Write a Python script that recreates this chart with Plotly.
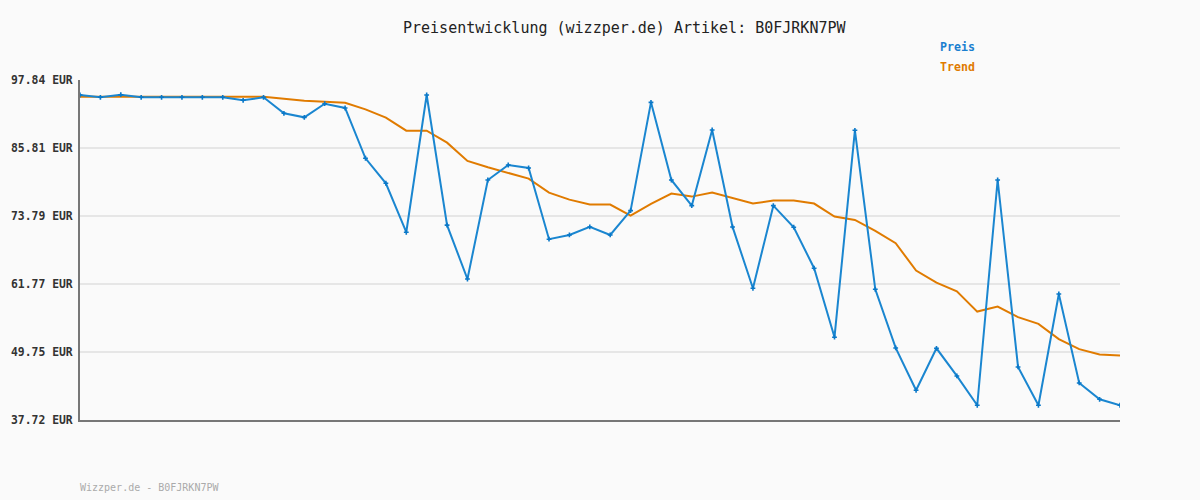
import plotly.graph_objects as go

preis = [95.19, 94.78, 95.24, 94.78, 94.78, 94.78, 94.78, 94.78, 94.25, 94.78,
         91.95, 91.24, 93.65, 92.89, 84.00, 79.58, 70.92, 95.19, 72.17, 62.65,
         80.16, 82.81, 82.28, 69.69, 70.44, 71.86, 70.44, 74.74, 93.89, 80.16,
         75.62, 89.00, 71.86, 61.01, 75.62, 71.81, 64.56, 52.36, 88.95, 60.83,
         50.46, 42.98, 50.40, 45.51, 40.33, 80.16, 47.10, 40.33, 60.00, 44.27,
         41.38, 40.33]
trend = [94.89, 94.89, 94.89, 94.89, 94.89, 94.89, 94.89, 94.89, 94.89, 94.89,
         94.53, 94.18, 94.00, 93.83, 92.65, 91.18, 88.88, 88.88, 86.76, 83.52,
         82.40, 81.46, 80.40, 77.93, 76.69, 75.81, 75.81, 73.86, 75.93, 77.75,
         77.22, 77.93, 76.93, 76.00, 76.52, 76.52, 75.99, 73.69, 73.10, 71.16,
         68.98, 64.14, 62.02, 60.49, 56.89, 57.78, 55.90, 54.72, 52.02, 50.25,
         49.31, 49.13]
ytick_vals = [37.72, 49.75, 61.77, 73.79, 85.81, 97.84]
ytick_text = ["37.72 EUR", "49.75 EUR", "61.77 EUR", "73.79 EUR", "85.81 EUR", "97.84 EUR"]
title_text = "Preisentwicklung (wizzper.de) Artikel: B0FJRKN7PW"
footer_text = "Wizzper.de - B0FJRKN7PW"

x = list(range(len(preis)))
BLUE = "#1a86d0"
ORANGE = "#e07b00"
MONO = "DejaVu Sans Mono"

fig = go.Figure()
fig.add_trace(go.Scatter(x=x, y=trend, mode="lines", name="Trend",
                         line=dict(color=ORANGE, width=2), hoverinfo="skip"))
fig.add_trace(go.Scatter(x=x, y=preis, mode="lines+markers", name="Preis",
                         line=dict(color=BLUE, width=2),
                         marker=dict(symbol="cross", size=4, color="#0a78c8")))

fig.update_layout(
    width=1200, height=500,
    margin=dict(l=80, r=80, t=80, b=80, autoexpand=False),
    paper_bgcolor="#fafafa", plot_bgcolor="#fafafa",
    showlegend=False,
    xaxis=dict(range=[0, len(preis) - 1], showgrid=False, showticklabels=False,
               zeroline=False, showline=True, linecolor="#777777", linewidth=2,
               ticks="", automargin=False),
    yaxis=dict(range=[37.72, 97.84], tickvals=ytick_vals, ticktext=ytick_text,
               showgrid=True, gridcolor="#e6e6e6", gridwidth=2, zeroline=False,
               showline=True, linecolor="#777777", linewidth=2,
               ticks="outside", ticklen=3, tickcolor="rgba(0,0,0,0)",
               automargin=False,
               tickfont=dict(family=MONO, size=11.4, color="#333333", weight="bold")),
    annotations=[
        dict(text=title_text, xref="paper", yref="paper", x=(624 - 80) / 1040,
             y=1 + (80 - 28) / 340, xanchor="center", yanchor="middle",
             showarrow=False, font=dict(family=MONO, size=15, color="#222222")),
        dict(text="<b>Preis</b>", xref="paper", yref="paper", x=(938 - 80) / 1040,
             y=1 + (80 - 47) / 340, xanchor="left", yanchor="middle",
             showarrow=False, font=dict(family=MONO, size=11.6, color="#1a7fd0")),
        dict(text="<b>Trend</b>", xref="paper", yref="paper", x=(938 - 80) / 1040,
             y=1 + (80 - 67) / 340, xanchor="left", yanchor="middle",
             showarrow=False, font=dict(family=MONO, size=11.6, color=ORANGE)),
        dict(text=footer_text, xref="paper", yref="paper", x=-2 / 1040,
             y=-(487 - 420) / 340, xanchor="left", yanchor="middle",
             showarrow=False, font=dict(family=MONO, size=10, color="#aaaaaa")),
    ],
)

fig.write_html("out.html")
